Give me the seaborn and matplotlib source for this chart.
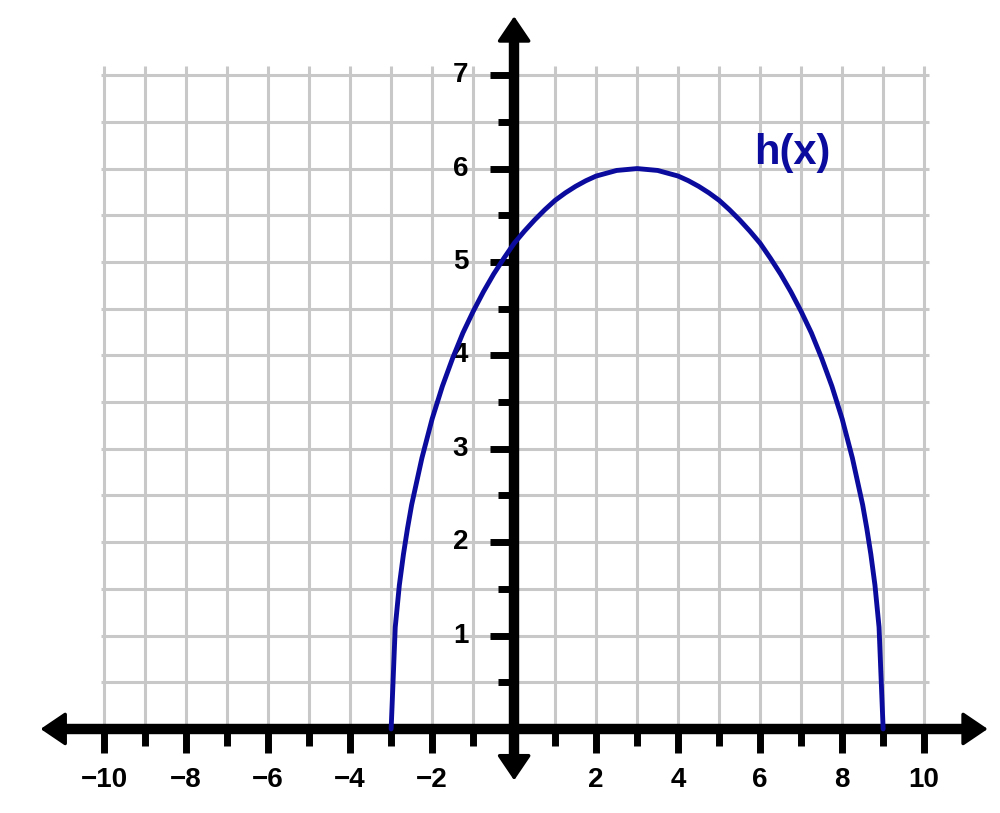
import numpy as np
import pandas as pd
import matplotlib
matplotlib.use('Agg')
import matplotlib.pyplot as plt
import seaborn as sns

x_vals = [-3, -2.9, -2.8, -2.7, -2.6, -2.5, -2.25, -2, -1.75, -1.5, -1.25,
          -1, -0.75, -0.5, -0.25, 0, 0.25, 0.5, 0.75, 1, 1.25, 1.5, 1.75,
          2, 2.25, 2.5, 2.75, 3, 3.25, 3.5, 3.75, 4, 4.25, 4.5, 4.75,
          5, 5.25, 5.5, 5.75, 6, 6.25, 6.5, 6.75, 7,
          7.25, 7.5, 7.75, 8, 8.25, 8.5, 8.6, 8.7, 8.8, 8.9, 9]
h_vals = [0, 1.09, 1.54, 1.87, 2.15, 2.40, 2.90, 3.32, 3.67, 3.97, 4.24,
          4.47, 4.68, 4.87, 5.04, 5.20, 5.33, 5.45, 5.56, 5.66, 5.74, 5.81, 5.87,
          5.92, 5.95, 5.98, 5.99, 6.00, 5.99, 5.98, 5.95, 5.92, 5.87, 5.81, 5.74,
          5.66, 5.56, 5.45, 5.33, 5.20, 5.04, 4.87, 4.68, 4.47,
          4.24, 3.97, 3.67, 3.32, 2.90, 2.40, 2.15, 1.87, 1.54, 1.09, 0]

x_major = [-10, -8, -6, -4, -2, 2, 4, 6, 8, 10]
x_minor = [-9, -7, -5, -3, -1, 1, 3, 5, 7, 9]
y_major = [1, 2, 3, 4, 5, 6, 7]
y_minor = [0.5, 1.5, 2.5, 3.5, 4.5, 5.5, 6.5]
x_labels = ['\u221210', '\u22128', '\u22126', '\u22124', '\u22122', '2', '4', '6', '8', '10']

sns.set_style('white')
plt.rcParams['font.family'] = ['Liberation Sans', 'DejaVu Sans']

blue = '#0b0b9e'
grid_c = '#c8c8c8'

fig = plt.figure(figsize=(10, 8.13), dpi=100)
ax = fig.add_axes([0, 0, 1, 1])

# grid
ax.vlines(np.arange(-10, 11), 0, 7.1, color=grid_c, lw=2.2, zorder=1)
ax.hlines(np.arange(0.5, 7.01, 0.5), -10.08, 10.12, color=grid_c, lw=2.2, zorder=1)

# axis lines
ax.plot([-11.2, 11.2], [0, 0], color='black', lw=7.5, solid_capstyle='butt', zorder=3)
ax.plot([0, 0], [-0.4, 7.4], color='black', lw=7.5, solid_capstyle='butt', zorder=3)

# arrow heads
head = dict(arrowstyle='-|>,head_length=1.55,head_width=1.05', lw=2.5,
            color='black', mutation_scale=10, shrinkA=0, shrinkB=0, joinstyle='round')
for tip, base in [((11.55, 0), (11.0, 0)), ((-11.55, 0), (-11.0, 0)),
                  ((0, 7.63), (0, 7.3)), ((0, -0.55), (0, -0.2))]:
    ax.annotate('', xy=tip, xytext=base, arrowprops=head, zorder=3)

# ticks
ax.vlines(x_major, -0.26, 0, color='black', lw=5, zorder=3)
ax.vlines(x_minor, -0.18, 0, color='black', lw=5, zorder=3)
ax.hlines(y_major, -0.59, 0, color='black', lw=5, zorder=3)
ax.hlines(y_minor, -0.40, 0, color='black', lw=5, zorder=3)

for xv, lab in zip(x_major, x_labels):
    ax.text(xv, -0.55, lab, ha='center', va='center', fontsize=20,
            fontweight='bold', color='black')
for yv in y_major:
    ax.text(-1.12, yv, str(yv), ha='right', va='center', fontsize=20,
            fontweight='bold', color='black')

df = pd.DataFrame({'x': x_vals, 'h': h_vals})
sns.lineplot(data=df, x='x', y='h', ax=ax, color=blue, lw=3.5, sort=False, zorder=4)
ax.text(6.78, 6.17, 'h(x)', ha='center', va='center', fontsize=30,
        fontweight='bold', color=blue)

ax.set_xlim(-12.54, 11.85)
ax.set_ylim(-0.90, 7.805)
ax.axis('off')

fig.savefig('out.png', dpi=100)
